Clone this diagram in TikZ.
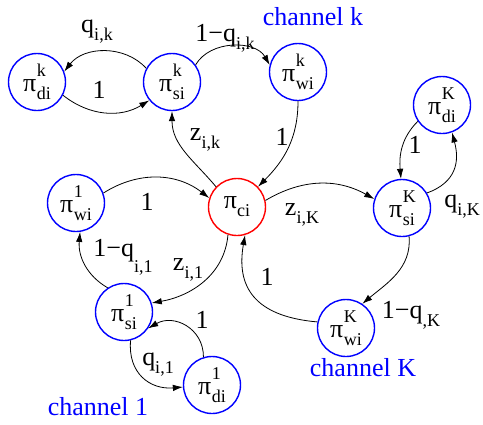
\documentclass[tikz,border=0pt]{standalone}
\usepackage{fontspec}
\setmainfont{Liberation Serif}
\usetikzlibrary{arrows.meta}
\newcommand{\pn}[2]{π\kern0.5pt\rlap{\raisebox{0.58em}{\fontsize{18}{18}\selectfont #1}}\raisebox{-0.3em}{\fontsize{18}{18}\selectfont #2}}
\newcommand{\sbx}[1]{\raisebox{-0.3em}{\fontsize{18}{18}\selectfont #1}}
\newcommand{\sbd}[1]{\raisebox{-0.6em}{\fontsize{18}{18}\selectfont #1}}
\tikzset{
  st/.style={circle, draw=blue, line width=1.4pt, minimum size=57pt, inner sep=0pt, font=\fontsize{26}{26}\selectfont},
  ct/.style={st, draw=red},
  ed/.style={-{Latex[length=10pt,width=6.5pt]}, line width=0.8pt},
  lb/.style={font=\fontsize{26}{26}\selectfont, inner sep=0pt},
  ch/.style={lb, text=blue}
}
\begin{document}
\begin{tikzpicture}[x=1pt,y=-1pt]
\useasboundingbox (0,0) rectangle (483,424);
% states
\node[st] (dik) at (37,82) {\pn{k}{di}};
\node[st] (sik) at (172,82) {\pn{k}{si}};
\node[st] (wik) at (298,72) {\pn{k}{wi}};
\node[ct] (ci) at (237,207) {π\sbx{ci}};
\node[st] (wi1) at (76,203) {\pn{1}{wi}};
\node[st] (si1) at (124,312) {\pn{1}{si}};
\node[st] (di1) at (212,385) {\pn{1}{di}};
\node[st] (siK) at (402,208) {\pn{K}{si}};
\node[st] (diK) at (442,105) {\pn{K}{di}};
\node[st] (wiK) at (346,328) {\pn{K}{wi}};
% channel labels
\node[ch] (chk) at (313,17) {channel k};
\node[ch] (ch1) at (98,407) {channel 1};
\node[ch] (chK) at (363,368) {channel K};
% edges
\draw[ed] (sik.152) to[bend right=50] (dik.21);
\draw[ed] (dik.-27) to[bend right=35] (sik.219);
\draw[ed] (sik.36) to[bend left=60] (wik.166);
\draw[ed] (wik.-90) to[out=-90,in=45] (ci.44);
\draw[ed] (ci.136) to[out=130,in=-90] (sik.-90);
\draw[ed] (wi1.20) to[bend left=35] (ci.162);
\draw[ed] (ci.-108) to[out=-95,in=10] (si1.18);
\draw[ed] (si1.124) to[out=150,in=-95] (wi1.-82);
\draw[ed] (di1.107) to[out=90,in=30,looseness=1.2] (si1.-34);
\draw[ed] (si1.-77) to[out=-95,in=185,looseness=1.2] (di1.184);
\draw[ed] (ci.13) to[bend left=30] (siK.162);
\draw[ed] (diK.214) to[out=225,in=95] (siK.92);
\draw[ed] (siK.31) to[out=20,in=-75,looseness=1.2] (diK.-70);
\draw[ed] (siK.-76) to[out=-85,in=40] (wiK.56);
\draw[ed] (wiK.168) to[out=175,in=-100,looseness=1.3] (ci.-74);
% edge labels
\node[lb] (l1) at (97,32) {q\sbx{i,k}};
\node[lb] (l2) at (99,90) {1};
\node[lb] (l3) at (225,38) {1−q\sbx{i,k}};
\node[lb] (l4) at (282,137) {1};
\node[lb] (l5) at (205,140) {z\sbx{i,k}};
\node[lb] (l6) at (147,202) {1};
\node[lb] (l7) at (123,257) {1−q\sbd{i,1}};
\node[lb] (l8) at (188,270) {z\sbx{i,1}};
\node[lb] (l9) at (202,320) {1};
\node[lb] (l10) at (158,365) {q\sbx{i,1}};
\node[lb] (l11) at (302,215) {z\sbx{i,K}};
\node[lb] (l12) at (415,145) {1};
\node[lb] (l13) at (462,207) {q\sbx{i,K}};
\node[lb] (l14) at (411,315) {1−q\sbx{,K}};
\node[lb] (l15) at (267,277) {1};
\end{tikzpicture}
\end{document}
